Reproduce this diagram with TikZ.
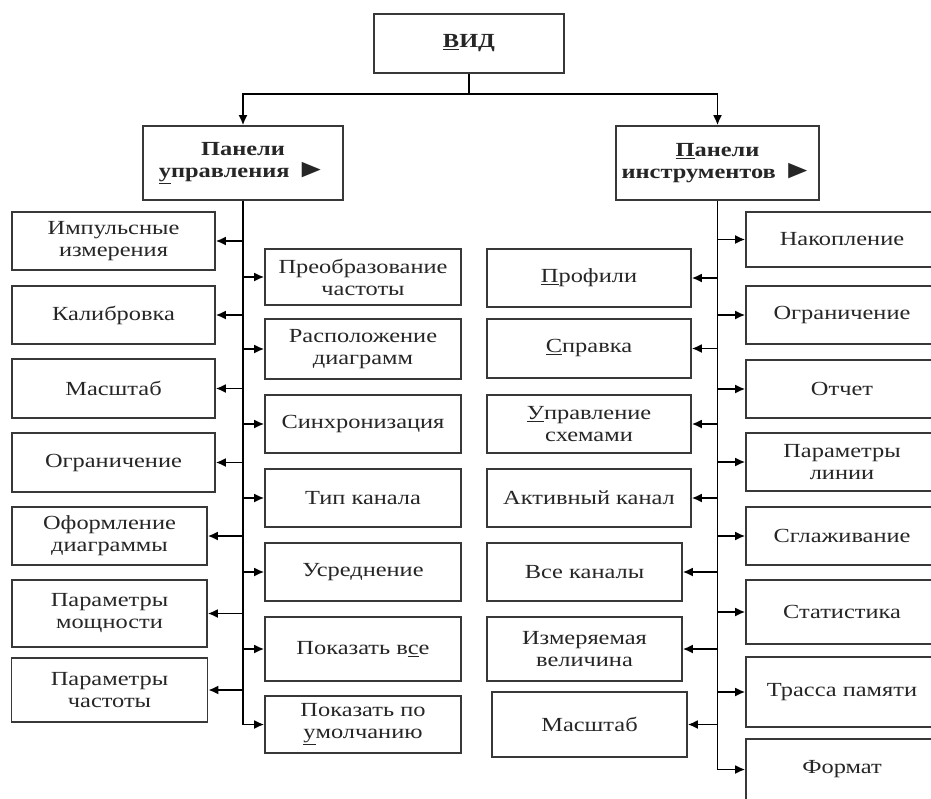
\documentclass[tikz,border=0pt]{standalone}
\usepackage{fontspec}
\setmainfont[FakeStretch=1.22]{Liberation Serif}
\usetikzlibrary{arrows.meta}
\newcommand{\pointer}{{\fontsize{26}{22}\selectfont ►}}
\begin{document}
\begin{tikzpicture}[x=1pt,y=-1pt,
  box/.style={draw=black!78, line width=1.6pt, fill=white, inner sep=0pt, align=center,
    text=black!85, font=\fontsize{20}{22}\selectfont},
  topbox/.style={box, font=\fontsize{20}{22}\selectfont\bfseries},
  arr/.style={-{Latex[length=10pt,width=9pt]}, line width=1.8pt, draw=black},
  trunk/.style={line width=1.8pt, draw=black}]
\useasboundingbox (0,0) rectangle (931,798);
\clip (0,0) rectangle (931,798);
% top
\node[topbox, minimum width=190pt, minimum height=59pt] (vid) at (469,43.5) {\underline{В}ИД};
\node[topbox, minimum width=200pt, minimum height=74pt] (pu) at (243,163) {Панели\\\underline{у}правления \pointer};
\node[topbox, minimum width=203pt, minimum height=74pt] (pi) at (717.5,163) {\underline{П}анели\\инструментов \pointer};
\coordinate (split) at (469,94);
% left column
\node[box, minimum width=203pt, minimum height=58pt] (L1) at (113.5,241) {Импульсные\\измерения};
\node[box, minimum width=203pt, minimum height=58pt] (L2) at (113.5,315) {Калибровка};
\node[box, minimum width=203pt, minimum height=59pt] (L3) at (113.5,388.5) {Масштаб};
\node[box, minimum width=203pt, minimum height=59pt] (L4) at (113.5,462.5) {Ограничение};
\node[box, minimum width=195pt, minimum height=58pt] (L5) at (109.5,536) {Оформление\\диаграммы};
\node[box, minimum width=195pt, minimum height=67pt] (L6) at (109.5,613.5) {Параметры\\мощности};
\node[box, minimum width=196pt, minimum height=64pt] (L7) at (109.5,690) {Параметры\\частоты};
% middle-left column
\node[box, minimum width=196pt, minimum height=56pt] (M1) at (363,277) {Преобразование\\частоты};
\node[box, minimum width=196pt, minimum height=60pt] (M2) at (363,349) {Расположение\\диаграмм};
\node[box, minimum width=196pt, minimum height=58pt] (M3) at (363,424) {Синхронизация};
\node[box, minimum width=196pt, minimum height=58pt] (M4) at (363,498) {Тип канала};
\node[box, minimum width=196pt, minimum height=58pt] (M5) at (363,572) {Усреднение};
\node[box, minimum width=196pt, minimum height=64pt] (M6) at (363,649) {Показать в\underline{с}е};
\node[box, minimum width=196pt, minimum height=57pt] (M7) at (363,724.5) {Показать по\\\underline{у}молчанию};
% middle-right column
\node[box, minimum width=204pt, minimum height=58pt] (R1) at (589,278) {\underline{П}рофили};
\node[box, minimum width=204pt, minimum height=59pt] (R2) at (589,348.5) {\underline{С}правка};
\node[box, minimum width=204pt, minimum height=58pt] (R3) at (589,424) {\underline{У}правление\\схемами};
\node[box, minimum width=204pt, minimum height=58pt] (R4) at (589,498) {Активный канал};
\node[box, minimum width=195pt, minimum height=58pt] (R5) at (584.5,572) {Все каналы};
\node[box, minimum width=195pt, minimum height=64pt] (R6) at (584.5,649) {Измеряемая\\величина};
\node[box, minimum width=195pt, minimum height=65pt] (R7) at (589.5,724.5) {Масштаб};
% far-right column
\node[box, minimum width=192pt, minimum height=55pt] (F1) at (842,239.5) {Накопление};
\node[box, minimum width=192pt, minimum height=58pt] (F2) at (842,315) {Ограничение};
\node[box, minimum width=192pt, minimum height=58pt] (F3) at (842,389) {Отчет};
\node[box, minimum width=192pt, minimum height=58pt] (F4) at (842,462) {Параметры\\линии};
\node[box, minimum width=192pt, minimum height=58pt] (F5) at (842,536) {Сглаживание};
\node[box, minimum width=192pt, minimum height=64pt] (F6) at (842,612) {Статистика};
\node[box, minimum width=192pt, minimum height=70pt] (F7) at (842,692) {Трасса памяти};
\node[box, minimum width=192pt, minimum height=61pt] (F8) at (842,769.5) {Формат};
% top connectors
\draw[trunk] (vid.south) -- (split);
\draw[arr] (split) -| (pu.north);
\draw[arr] (split) -| (pi.north);
% left trunk
\coordinate (lend) at (pu.south |- M7.west);
\draw[trunk] (pu.south) -- (lend);
\foreach \n in {L1,L2,L3,L4,L5,L6,L7}{\draw[arr] (pu.south |- \n.east) -- (\n.east);}
\foreach \n in {M1,M2,M3,M4,M5,M6,M7}{\draw[arr] (pu.south |- \n.west) -- (\n.west);}
% right trunk
\coordinate (rend) at (pi.south |- F8.west);
\draw[trunk] (pi.south) -- (rend);
\foreach \n in {R1,R2,R3,R4,R5,R6,R7}{\draw[arr] (pi.south |- \n.east) -- (\n.east);}
\foreach \n in {F1,F2,F3,F4,F5,F6,F7,F8}{\draw[arr] (pi.south |- \n.west) -- (\n.west);}
\end{tikzpicture}
\end{document}
